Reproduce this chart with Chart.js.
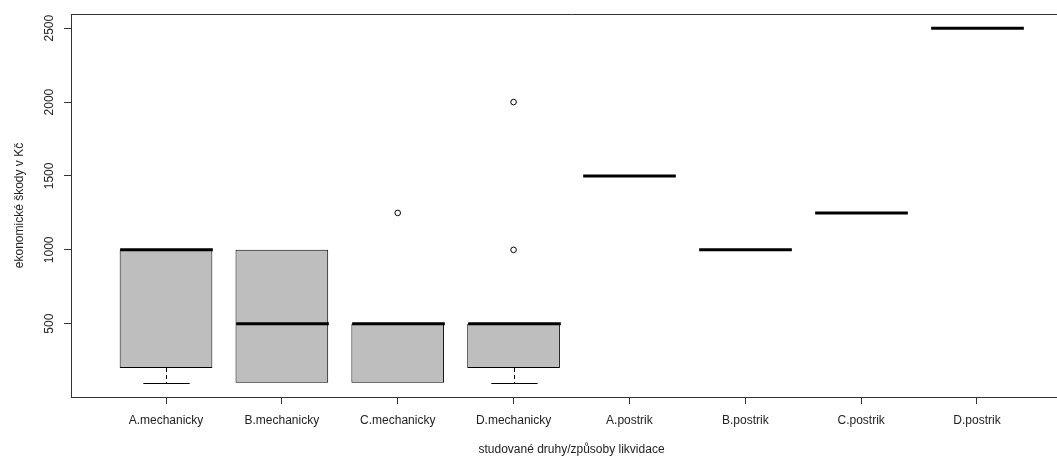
<!DOCTYPE html>
<html>
<head>
<meta charset="utf-8">
<script src="https://cdn.jsdelivr.net/npm/chart.js@4/dist/chart.umd.min.js"></script>
<style>
  html, body { margin: 0; padding: 0; background: #fff; overflow: hidden; }
  #wrap { position: absolute; left: 0; top: 0; width: 1080px; height: 459px; }
</style>
</head>
<body>
<div id="wrap"><canvas id="c" width="1080" height="459"></canvas></div>
<script>
// Damage costs per control method (Kč): box-plot statistics per group
const categories = ['A.mechanicky', 'B.mechanicky', 'C.mechanicky', 'D.mechanicky',
                    'A.postrik', 'B.postrik', 'C.postrik', 'D.postrik'];
const lowerWhisker = [100, 100, 100, 100, 1500, 1000, 1250, 2500];
const lowerHinge   = [200, 100, 100, 200, 1500, 1000, 1250, 2500];
const medians      = [1000, 500, 500, 500, 1500, 1000, 1250, 2500];
const upperHinge   = [1000, 1000, 500, 500, 1500, 1000, 1250, 2500];
const upperWhisker = [1000, 1000, 500, 500, 1500, 1000, 1250, 2500];
// outlying observations: [group index (1-based), value]
const outlierGroup = [3, 4, 4];
const outlierValue = [1250, 1000, 2000];
const yTicks = [500, 1000, 1500, 2000, 2500];

const INK = '#222';
const FRAME = '#333';
const BOX_FILL = '#bebebe';
const BOX_WEX = 0.8;

const boxParts = {
  id: 'boxParts',
  afterDatasetsDraw(chart) {
    const { ctx, chartArea, scales: { x, y } } = chart;
    const unit = x.getPixelForValue(2) - x.getPixelForValue(1);
    const half = unit * BOX_WEX / 2;
    const stapleHalf = half / 2;
    ctx.save();
    ctx.beginPath();
    ctx.rect(chartArea.left, chartArea.top, chartArea.right - chartArea.left, chartArea.bottom - chartArea.top);
    ctx.clip();
    categories.forEach((c, i) => {
      const cx = Math.round(x.getPixelForValue(i + 1)) + 0.5;
      ctx.strokeStyle = '#000';
      ctx.lineWidth = 1;
      // whiskers
      const drawWhisker = (from, to) => {
        if (from === to) return;
        const y0 = y.getPixelForValue(from);
        const y1 = Math.round(y.getPixelForValue(to)) + 0.5;
        ctx.setLineDash([4, 3]);
        ctx.beginPath();
        ctx.moveTo(cx, y0);
        ctx.lineTo(cx, y1);
        ctx.stroke();
        ctx.setLineDash([]);
        ctx.beginPath();
        ctx.moveTo(cx - stapleHalf, y1);
        ctx.lineTo(cx + stapleHalf, y1);
        ctx.stroke();
      };
      drawWhisker(lowerHinge[i], lowerWhisker[i]);
      drawWhisker(upperHinge[i], upperWhisker[i]);
      // median
      const ym = y.getPixelForValue(medians[i]);
      ctx.lineWidth = 3;
      ctx.lineCap = 'butt';
      ctx.beginPath();
      ctx.moveTo(cx - half, ym);
      ctx.lineTo(cx + half, ym);
      ctx.stroke();
    });
    ctx.restore();
    // top and right frame edges
    ctx.save();
    ctx.strokeStyle = FRAME;
    ctx.lineWidth = 1;
    ctx.beginPath();
    const t = Math.round(chartArea.top) + 0.5;
    ctx.moveTo(chartArea.left, t);
    ctx.lineTo(chartArea.right, t);
    ctx.moveTo(Math.round(chartArea.right) - 0.5, chartArea.top);
    ctx.lineTo(Math.round(chartArea.right) - 0.5, chartArea.bottom);
    ctx.stroke();
    ctx.restore();
  }
};

const boxData = categories.map((c, i) => ({ x: i + 1, y: [lowerHinge[i], upperHinge[i]] }));
const outlierData = outlierGroup.map((g, k) => ({ x: g, y: outlierValue[k] }));

new Chart(document.getElementById('c'), {
  type: 'bar',
  data: {
    datasets: [
      {
        type: 'bar',
        data: boxData,
        backgroundColor: BOX_FILL,
        borderColor: '#000',
        borderWidth: 1,
        borderSkipped: false,
        categoryPercentage: 1,
        barPercentage: BOX_WEX,
        order: 2
      },
      {
        type: 'line',
        data: outlierData,
        showLine: false,
        pointStyle: 'circle',
        pointRadius: 2.8,
        pointBorderWidth: 1,
        pointBackgroundColor: 'rgba(0,0,0,0)',
        pointBorderColor: '#000',
        order: 1
      }
    ]
  },
  options: {
    responsive: false,
    animation: false,
    events: [],
    layout: { padding: { top: 14, right: 8, left: 0, bottom: 0 } },
    plugins: { legend: { display: false }, tooltip: { enabled: false } },
    scales: {
      x: {
        type: 'linear',
        min: 0.18,
        max: 8.82,
        offset: false,
        afterBuildTicks: s => { s.ticks = categories.map((c, i) => ({ value: i + 1 })); },
        afterFit: s => { s.height = 62; s.paddingLeft = 0; s.paddingRight = 0; },
        grid: { display: true, offset: false, drawOnChartArea: false, drawTicks: true, tickLength: 7, tickColor: FRAME, lineWidth: 1 },
        border: { display: true, color: FRAME, width: 1 },
        ticks: {
          autoSkip: false, maxRotation: 0, minRotation: 0, padding: 9,
          color: INK, font: { family: 'Liberation Sans, Arial, sans-serif', size: 12 },
          callback: v => categories[v - 1]
        },
        title: {
          display: true, text: 'studované druhy/způsoby likvidace', color: INK,
          font: { family: 'Liberation Sans, Arial, sans-serif', size: 12 },
          padding: { top: 0, bottom: 2 }
        }
      },
      y: {
        type: 'linear',
        min: 4,
        max: 2596,
        afterBuildTicks: s => { s.ticks = yTicks.map(v => ({ value: v })); },
        afterFit: s => { s.width = 71; s.paddingTop = 0; s.paddingBottom = 0; },
        grid: { display: true, drawOnChartArea: false, drawTicks: true, tickLength: 7, tickColor: FRAME, lineWidth: 1 },
        border: { display: true, color: FRAME, width: 1 },
        ticks: {
          minRotation: 90, maxRotation: 90, crossAlign: 'center', padding: 1,
          color: INK, font: { family: 'Liberation Sans, Arial, sans-serif', size: 12 },
          callback: v => String(v)
        },
        title: {
          display: true, text: 'ekonomické škody v Kč', color: INK,
          font: { family: 'Liberation Sans, Arial, sans-serif', size: 12 },
          padding: { top: 12, bottom: 0 }
        }
      }
    }
  },
  plugins: [boxParts]
});
</script>
</body>
</html>
